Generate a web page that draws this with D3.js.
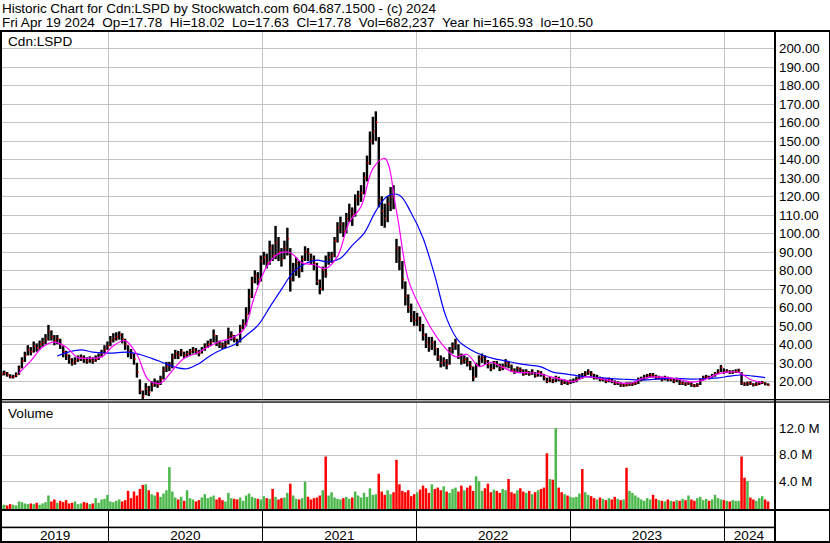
<!DOCTYPE html>
<html><head><meta charset="utf-8">
<script src="https://cdn.jsdelivr.net/npm/d3@7"></script>
<style>body{margin:0;background:#fff}svg{display:block;font-family:"Liberation Sans",Arial,sans-serif}text{white-space:pre}</style>
</head><body><svg id="c" width="830" height="543"></svg>
<script>
// ---------------- DATA ----------------
const titleLine1 = "Historic Chart for Cdn:LSPD by Stockwatch.com 604.687.1500 - (c) 2024";
const titleLine2 = "Fri Apr 19 2024  Op=17.78  Hi=18.02  Lo=17.63  Cl=17.78  Vol=682,237  Year hi=165.93  lo=10.50";
const symbolLabel = "Cdn:LSPD";
const volumeLabel = "Volume";
const firstWeek = "2019-04-22";           // Monday of first weekly bar
const years = [2019, 2020, 2021, 2022, 2023, 2024];
const priceTicks = [20,30,40,50,60,70,80,90,100,110,120,130,140,150,160,170,180,190,200];
const volumeTicks = [4e6, 8e6, 12e6];
const volumeTickLabels = ["4.0 M", "8.0 M", "12.0 M"];

const weekClose = [24,24.5,23.5,22.5,22.5,23.5,27,31,34,37,
36,39,38,40,41,43,47,44,42,43,
40,36,34,32,30,31,32,33,32,31,
32,31,32,33,35,37,39,42,43,44,
45,43,40,36,35,32,25,15,12,16,
14,18,19,18,21,26,28,29,33,35,
34,36,34,35,36,37,36,35,37,39,
40,41,45,41,40,39,40,44,45,43,
41,49,51,56,66,74,77,75,85,87,
84,92,88,95,90,86,92,97,75,80,
84,80,86,90,89,86,84,74,70,80,
78,87,88,96,103,105,101,108,112,110,
118,120,122,130,138,150,155,160,118,112,
108,116,120,119,92,86,75,66,60,55,
53,54,50,45,41,39,41,38,33,30,
31,29,37,39,41,34,31,32,30,28,
22,29,32,33,31,29,27,30,29,27,
28,30,29,26,25,27,26,24,25,24,
25,23,25,24,22,20,21,20,22,21,
19,20,19,20,20,21,23,22.5,24,25,
24,22,22,21,21,20,21,20,19,19,
18,18,17.8,18.5,18.5,19,21,21,22,23,
23.5,23,22,22,21,22,21,21,20,21,
19,19,18.5,19,18,17.5,18,21,22,22.5,
22,23,24,25,27.5,25,25.5,25,25,25.5,
26,19,18.5,19.2,18.8,18,18.5,19,19.5,18.5,
17.78];

const weekHigh = [25.5,25.8,25,23.8,23.5,24.8,28.5,33,36,39.5,
38.5,41.5,40.5,42,43.5,45.5,50.5,47.5,45,45,
43,39,36.5,34.5,32.5,33,34,34.5,34,33,
33.5,33,34,35,37,39.5,41.5,44.5,46,46.5,
47,46,43,39.5,37.5,35,30,21,15,19,
17.5,20,21.5,20.5,23,28,30.5,30.5,35,37,
36.5,37.5,36,36.5,37.5,38.5,38,37,38.5,40.5,
42,43,48,45,42,41,42,49,47,45,
43,50.5,53.5,60,70,76.5,80,79,88,90,
89,96,94,104,98,92,96,103,92,84,
87,85,88,93,92,89,88,84,75,82,
88,90,90,98,106,109,106,111,116,114,
121,123,126,133,142,155,163,165.93,152,120,
116,120,125,126,97,93,85,74,67,62,
58,57,55,51,46,44,44,42,38,34,
33,32,38.5,41,43,40,35,34,33,31,
28,30,34,35,34,31.5,29.5,31,31,29.5,
29.5,32,31,29,27,28,27.5,26.5,26.5,25.5,
26.5,25,26,25.5,24,22,22.5,21.5,23,22.5,
21,21,20.5,21,21.5,22.5,24,24.5,25.5,26.5,
25.5,24,23.5,22.5,22,21.5,22,21.5,20.5,20,
19.5,19,19.5,19.5,19.5,20,22,22.5,23.5,24,
24.5,24.5,23.5,23,22.5,23,22.5,22,21.5,22,
21,20,19.5,20,19.5,18.5,19,21.5,23,23.5,
23,24,25,26.5,28.8,27,26.5,26,26,26.5,
26.8,25,19.5,19.8,20,19,19.5,20,20.2,19.5,
18.9];

const weekLow = [22.8,23.2,22.5,21.6,21.5,22.2,23.5,27,30.5,34,
34,35.5,36,37,38.5,40,42,42,39.5,40,
37.5,33,31.5,29.5,28.5,29,30.5,31,30,29.5,
30,29.5,30.5,31.5,33,35,37,39,41,42,
42.5,40.5,37,33,32,29,22,13,10.5,12.5,
12,14.5,17,16.5,18,21,25,25.5,27,32,
32,33.5,32.5,33,34,35,34.5,33.5,35,36.5,
38,39,41,39,38,37.5,38,40,42,41,
39,41,48,50,56,65,73,72,74,83,
81,83,85,86,85,82,86,88,68.5,74,
77,76,79,85,85,83,80,72,67,69,
76,83,84,87,95,100,98,100,106,104,
109,115,117,121,128,137,148,150,114,104,
103,106,112,113,84,80,70,61,57,52,
50,50,47,42,38,36,37,34,31,27.5,
28,26.5,29,35,37,32,29,29.5,28,26,
20,22,28,30,29,27,25.5,26.5,27.5,25.5,
26,27.5,27,25,24,24.5,24.5,23,23.5,23,
23.5,22,22.5,22.5,20.5,19,19.5,19,19.5,20,
18,18.5,18,18.5,19,19.5,21,21.5,22.5,23.5,
22.5,21,21,20,20,19,19.5,19,18,18,
17,17,17.2,17.5,17.5,18,18.5,20,20.5,21.5,
22,22,21,21,20,20.5,20,20,19,19.5,
18,18,17.5,18,17,16.8,17,18,20.5,21.5,
21,22,22.5,24,25,24,24.5,24,24,24.5,
24.5,18,17.5,17.5,18,17.2,17.5,18,18.5,17.8,
17.63];

// volume in millions of shares
const weekVolume = [0.3,0.4,0.3,0.5,0.4,0.3,0.9,0.8,0.6,0.5,
0.6,0.5,0.7,0.4,0.6,0.8,1.8,0.9,1.2,0.7,
1.0,0.8,1.1,0.6,0.7,0.9,0.5,0.6,0.8,0.7,
0.5,0.6,1.4,0.7,1.2,1.3,1.9,0.9,0.8,1.0,
1.2,0.9,1.1,2.5,1.4,2.4,1.8,2.8,3.4,3.5,
2.6,2.0,1.8,2.3,1.6,2.1,2.6,6.1,2.4,1.5,
1.2,1.6,1.0,2.6,1.4,1.2,0.9,1.1,1.5,2.0,
1.4,1.6,1.8,1.2,1.5,1.1,0.9,2.2,1.4,1.3,
1.2,1.5,1.0,1.8,2.1,1.6,1.4,1.3,1.2,1.7,
1.4,1.3,2.8,1.6,1.2,1.4,1.5,2.2,3.6,1.8,
1.3,1.2,1.4,3.9,1.6,1.2,1.4,1.5,1.8,2.6,
7.7,1.8,2.3,1.5,1.3,1.2,1.4,1.6,1.3,1.5,
2.4,1.8,1.5,2.2,1.6,2.9,1.9,2.0,5.1,2.4,
1.9,2.6,2.0,2.3,7.2,3.5,2.5,2.3,2.6,1.7,
2.0,2.3,2.7,3.3,2.9,2.2,3.5,2.8,3.0,2.6,
3.2,2.4,2.2,2.8,3.0,2.4,3.3,2.6,3.0,3.3,
2.5,4.7,4.0,2.5,2.9,3.6,2.3,2.7,2.5,2.2,
2.8,2.6,4.3,2.3,2.1,2.6,2.9,2.4,2.2,2.5,
2.0,2.3,2.6,2.8,3.0,8.2,4.3,4.2,12.0,3.0,
2.3,2.0,1.8,1.6,1.5,1.6,2.1,5.8,2.3,1.9,
1.7,1.4,1.2,1.5,1.3,1.1,1.4,1.2,1.6,1.3,
1.1,1.2,6.0,2.5,2.2,1.8,1.5,1.2,1.0,1.4,
1.2,1.9,1.3,1.1,1.0,0.9,1.2,1.0,0.9,1.1,
1.0,1.3,1.1,1.8,1.2,1.0,1.4,1.6,1.1,1.3,
1.0,1.2,1.9,1.4,1.2,1.1,1.0,0.9,1.1,1.0,
1.0,7.7,4.5,4.0,1.5,1.2,1.0,1.4,1.7,1.2,
0.9];

// moving averages, one value every 4 weeks
const fastMAStartWeek = 6;
const fastMA = [24.5,31,38.5,41.2,38.5,32.8,32.5,33.2,39.2,42,34.5,20.5,19,25.8,32.5,35,38.4,41.5,43.3,47.5,
66.5,82,89,89.5,84,83,81,87.5,106,114.5,135,140.5,112,75,60,48,39,33.3,34.5,28,
30.3,27.5,25,24.7,24.3,22.5,21,19.8,22.4,21.8,20.5,19,19.2,21.8,22.4,22,21,19.6,20.6,23.5,
25,24.8,21,19.3];
const slowMAStartWeek = 19;
const slowMA = [33.7,35.9,37,35.8,35.3,35.4,35.8,34.5,32.4,30,27.6,26.8,29.5,34,37.3,39.8,44.8,50.2,60,69.7,
79,83.5,85.5,84.5,86.5,93.5,100,112,120.2,120.6,111,97.5,77,54,42,37.2,34.2,32.3,31,29.7,
28.7,27.8,25,24,23.1,22.4,22,21.4,21.1,20.8,20.8,21.3,21.6,21.4,21.2,21.5,21.8,22.8,23.4,22.8,
22];
const maStep = 4;

// ---------------- CHART ----------------
const svg = d3.select("#c");
const W = 830, plotR = 774;
const FONT = '"Liberation Sans",Arial,sans-serif';
const start = d3.timeParse("%Y-%m-%d")(firstWeek);
const weeks = weekClose.map((c, i) => ({
  date: d3.timeDay.offset(start, 7 * i),
  close: c, high: weekHigh[i], low: weekLow[i], vol: weekVolume[i] * 1e6,
  up: i === 0 ? true : c >= weekClose[i - 1]
}));

const x = d3.scaleTime().domain([new Date(2019, 3, 19), new Date(2024, 3, 29)]).range([0, plotR]);
const y = d3.scaleLinear().domain([10, 200]).range([399.8, 48.3]);
const yv = d3.scaleLinear().domain([0, 12e6]).range([507.4, 428.2]);

const grid = "#c4c4c4";
const yearX = years.map(yr => x(new Date(yr, 0, 1)));
const boundaries = yearX.filter(v => v > 0 && v < plotR);

// header
svg.append("text").attr("x", 2).attr("y", 12.5).attr("font-size", 13.5)
  .attr("textLength", 434).attr("lengthAdjust", "spacing").text(titleLine1);
svg.append("text").attr("x", 2).attr("y", 26.5).attr("font-size", 13.5)
  .attr("textLength", 591).attr("lengthAdjust", "spacing").text(titleLine2);

// price panel grid
const gP = svg.append("g");
gP.selectAll("line.h").data(priceTicks).join("line")
  .attr("x1", 2).attr("x2", plotR).attr("y1", d => Math.round(y(d)) + 0.5).attr("y2", d => Math.round(y(d)) + 0.5)
  .attr("stroke", grid);
gP.selectAll("line.v").data(boundaries).join("line")
  .attr("x1", d => Math.round(d) + 0.5).attr("x2", d => Math.round(d) + 0.5).attr("y1", 32).attr("y2", 399)
  .attr("stroke", grid);
// volume panel grid
gP.selectAll("line.vh").data(volumeTicks).join("line")
  .attr("x1", 2).attr("x2", plotR).attr("y1", d => Math.round(yv(d)) + 0.5).attr("y2", d => Math.round(yv(d)) + 0.5)
  .attr("stroke", grid);
gP.selectAll("line.vv").data(boundaries).join("line")
  .attr("x1", d => Math.round(d) + 0.5).attr("x2", d => Math.round(d) + 0.5).attr("y1", 403).attr("y2", 509)
  .attr("stroke", grid);

// axis labels
const yAxis = d3.axisRight(y).tickValues(priceTicks).tickFormat(d3.format(".2f")).tickSize(0).tickPadding(0);
const ya = svg.append("g").attr("transform", "translate(779,0)").call(yAxis);
ya.select(".domain").remove();
ya.selectAll("text").attr("font-size", 13.3).attr("font-family", FONT).attr("fill", "#000");

const vAxis = d3.axisRight(yv).tickValues(volumeTicks).tickFormat((d, i) => volumeTickLabels[i]).tickSize(0).tickPadding(0);
const va = svg.append("g").attr("transform", "translate(779,0)").call(vAxis);
va.select(".domain").remove();
va.selectAll("text").attr("font-size", 13.3).attr("font-family", FONT).attr("fill", "#000");

svg.append("text").attr("x", 8).attr("y", 46).attr("font-size", 13.6).text(symbolLabel);
svg.append("text").attr("x", 8).attr("y", 418).attr("font-size", 13.6).text(volumeLabel);

// clip for price panel
svg.append("clipPath").attr("id", "pc").append("rect").attr("x", 2).attr("y", 32).attr("width", plotR - 2).attr("height", 367);
const gPrice = svg.append("g").attr("clip-path", "url(#pc)");

// price bars
gPrice.selectAll("rect.bar").data(weeks).join("rect")
  .attr("x", d => x(d.date) - 1.2).attr("width", 2.4)
  .attr("y", d => y(d.high)).attr("height", d => Math.max(1, y(d.low) - y(d.high)))
  .attr("fill", "#000");
gPrice.selectAll("rect.cl").data(weeks).join("rect")
  .attr("x", d => x(d.date) + 0.3).attr("width", 1.4)
  .attr("y", d => y(d.close) - 0.7).attr("height", 1.4)
  .attr("fill", "#ff0000");

// moving averages
const maPts = (arr, s) => arr.map((v, k) => ({ date: d3.timeDay.offset(start, 7 * (s + k * maStep)), v }));
const line = d3.line().x(d => x(d.date)).y(d => y(d.v)).curve(d3.curveCatmullRom.alpha(0.5));
gPrice.append("path").attr("d", line(maPts(slowMA, slowMAStartWeek))).attr("fill", "none").attr("stroke", "#0000ff").attr("stroke-width", 1.2);
gPrice.append("path").attr("d", line(maPts(fastMA, fastMAStartWeek))).attr("fill", "none").attr("stroke", "#ff00ff").attr("stroke-width", 1.2);

// volume bars
svg.append("g").selectAll("rect").data(weeks).join("rect")
  .attr("x", d => x(d.date) - 1.25).attr("width", 2.5)
  .attr("y", d => yv(d.vol)).attr("height", d => 509 - yv(d.vol))
  .attr("fill", d => d.up ? "#4cb84c" : "#ff0000");

// frame lines
const fr = svg.append("g").attr("fill", "#000");
fr.append("rect").attr("x", 0).attr("y", 30).attr("width", W).attr("height", 2);
fr.append("rect").attr("x", 0).attr("y", 30).attr("width", 2).attr("height", 513);
fr.append("rect").attr("x", plotR).attr("y", 30).attr("width", 2).attr("height", 513);
fr.append("rect").attr("x", W - 1).attr("y", 30).attr("width", 1).attr("height", 513);
fr.append("rect").attr("x", 0).attr("y", 399).attr("width", W).attr("height", 1.3);
fr.append("rect").attr("x", 0).attr("y", 401.4).attr("width", W).attr("height", 1.3);
fr.append("rect").attr("x", 0).attr("y", 509).attr("width", W).attr("height", 2);
fr.append("rect").attr("x", 0).attr("y", 526.6).attr("width", plotR + 2).attr("height", 1.6);
fr.append("rect").attr("x", 0).attr("y", 541).attr("width", W).attr("height", 2);
fr.selectAll("rect.sep").data(boundaries).join("rect")
  .attr("x", d => Math.round(d)).attr("width", 1).attr("y", 511).attr("height", 30);

// year labels centred in each year's span
const spans = years.map((yr, i) => {
  const a = Math.max(2, yearX[i]);
  const b = i + 1 < years.length ? yearX[i + 1] : plotR;
  return { yr, c: (a + Math.min(b, plotR)) / 2 };
});
svg.append("g").selectAll("text").data(spans).join("text")
  .attr("x", d => d.c).attr("y", 540).attr("text-anchor", "middle").attr("font-size", 13.6)
  .text(d => d.yr);
</script></body></html>
